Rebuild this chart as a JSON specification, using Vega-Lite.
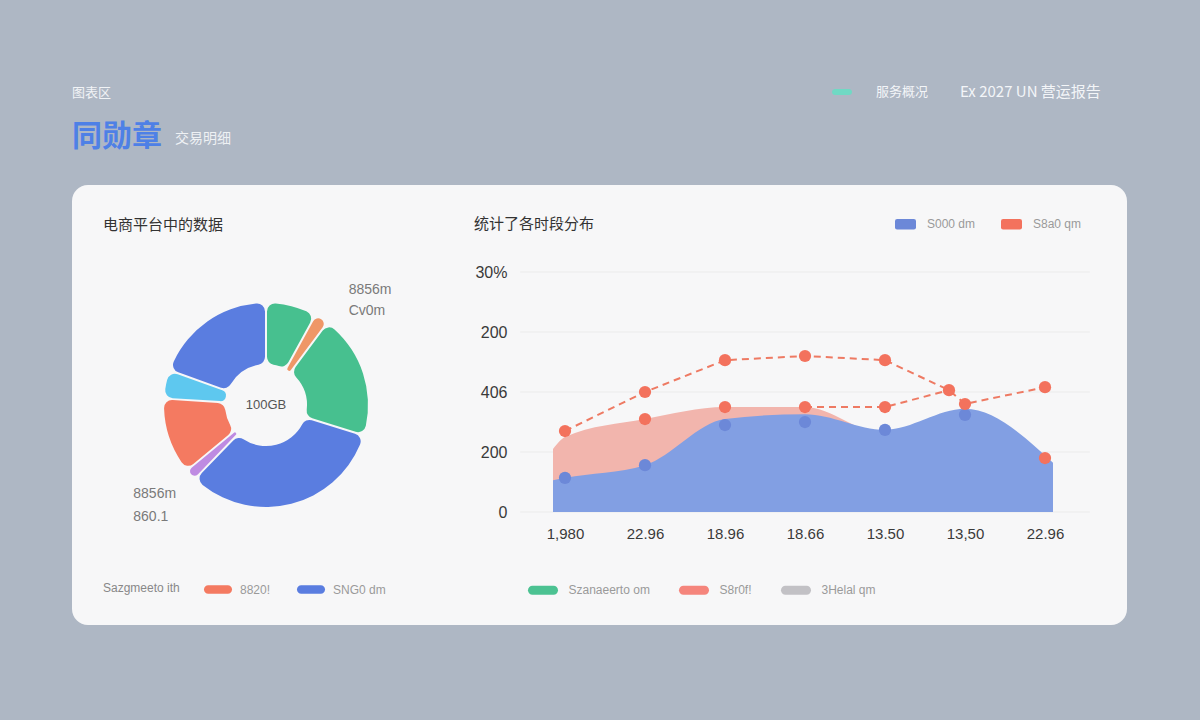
{
  "$schema": "https://vega.github.io/schema/vega-lite/v6.json",
  "background": "#aeb7c4",
  "padding": {"left": 72, "top": 85, "right": 73, "bottom": 95},
  "bounds": "flush",
  "spacing": 0,
  "resolve": {
    "scale": {"color": "independent", "fill": "independent", "shape": "independent"},
    "legend": {"color": "independent", "fill": "independent", "shape": "independent"}
  },
  "title": {
    "text": "图表区",
    "subtitle": "同勋章",
    "anchor": "start",
    "frame": "group",
    "font": "Noto Sans CJK SC",
    "fontSize": 13,
    "fontWeight": "normal",
    "color": "#f1f3f6",
    "subtitleFont": "Noto Sans CJK SC",
    "subtitleFontSize": 30,
    "subtitleFontWeight": "bold",
    "subtitleColor": "#4e80e6",
    "subtitlePadding": 22,
    "offset": -67
  },
  "config": {
    "font": "Noto Sans CJK SC",
    "view": {"stroke": null, "fill": null},
    "axis": {"domain": false, "ticks": false, "tickSize": 0, "grid": false, "zindex": 2, "labelFont": "Liberation Sans", "labelFontSize": 15, "labelColor": "#3a3a3a"},
    "legend": {"labelFont": "Liberation Sans", "labelFontSize": 12, "labelColor": "#9a9a9a", "symbolStrokeWidth": 0}
  },
  "datasets": {
    "card": [{"c": 1}],
    "donut": [
      {"k": 1, "name": "Szanaeerto om", "v": 8.0, "l1": "", "l2": ""},
      {"k": 2, "name": "Cv0m", "v": 2.2, "l1": "8856m\nCv0m", "l2": ""},
      {"k": 3, "name": "Szanaeerto om", "v": 19.6, "l1": "", "l2": ""},
      {"k": 4, "name": "SNG0 dm", "v": 32.4, "l1": "", "l2": ""},
      {"k": 5, "name": "860.1", "v": 1.8, "l1": "", "l2": "8856m\n860.1"},
      {"k": 6, "name": "8820!", "v": 12.0, "l1": "", "l2": ""},
      {"k": 7, "name": "Sb0", "v": 4.5, "l1": "", "l2": ""},
      {"k": 8, "name": "SNG0 dm", "v": 19.5, "l1": "", "l2": ""}
    ],
    "grid": [{"g": 0}, {"g": 100}, {"g": 200}, {"g": 300}, {"g": 400}],
    "pink": [
      {"x": -0.15, "v": 105}, {"x": 0, "v": 125}, {"x": 1, "v": 155}, {"x": 2, "v": 175},
      {"x": 3, "v": 175}, {"x": 4, "v": 130}, {"x": 5, "v": 165}, {"x": 6.1, "v": 78}
    ],
    "blue": [
      {"x": -0.15, "v": 53}, {"x": 0, "v": 57}, {"x": 1, "v": 78}, {"x": 2, "v": 155},
      {"x": 3, "v": 163}, {"x": 4, "v": 137}, {"x": 5, "v": 172}, {"x": 6.1, "v": 82}
    ],
    "lines": [
      {"s": "A", "x": 0, "v": 135}, {"s": "A", "x": 1, "v": 200}, {"s": "A", "x": 2, "v": 253},
      {"s": "A", "x": 3, "v": 260}, {"s": "A", "x": 4, "v": 253}, {"s": "A", "x": 4.8, "v": 203},
      {"s": "A", "x": 5, "v": 180}, {"s": "A", "x": 6, "v": 208},
      {"s": "B", "x": 3, "v": 175}, {"s": "B", "x": 4, "v": 175}, {"s": "B", "x": 4.8, "v": 203}
    ],
    "pts": [
      {"s": "S000 dm", "x": 0, "v": 57}, {"s": "S000 dm", "x": 1, "v": 78}, {"s": "S000 dm", "x": 2, "v": 145},
      {"s": "S000 dm", "x": 3, "v": 150}, {"s": "S000 dm", "x": 4, "v": 137}, {"s": "S000 dm", "x": 5, "v": 162},
      {"s": "S8a0 qm", "x": 0, "v": 135}, {"s": "S8a0 qm", "x": 1, "v": 200}, {"s": "S8a0 qm", "x": 2, "v": 253},
      {"s": "S8a0 qm", "x": 3, "v": 260}, {"s": "S8a0 qm", "x": 4, "v": 253}, {"s": "S8a0 qm", "x": 4.8, "v": 203},
      {"s": "S8a0 qm", "x": 5, "v": 180}, {"s": "S8a0 qm", "x": 6, "v": 208},
      {"s": "S8a0 qm", "x": 1, "v": 155}, {"s": "S8a0 qm", "x": 2, "v": 175}, {"s": "S8a0 qm", "x": 3, "v": 175},
      {"s": "S8a0 qm", "x": 4, "v": 175}, {"s": "S8a0 qm", "x": 6, "v": 90}
    ]
  },
  "hconcat": [
    {
      "width": 388,
      "height": 440,
      "title": {"text": "电商平台中的数据", "anchor": "start", "frame": "group", "dx": 31, "offset": -101, "fontSize": 15, "fontWeight": "normal", "color": "#333333"},
      "layer": [
        {
          "data": {"name": "card"},
          "mark": {"type": "rect", "color": "#f7f7f8", "cornerRadiusTopLeft": 16, "cornerRadiusBottomLeft": 16},
          "encoding": {}
        },
        {
          "data": {"name": "donut"},
          "mark": {"type": "arc", "innerRadius": 41, "outerRadius": 102, "cornerRadius": 8, "padAngle": 0.018},
          "encoding": {
            "theta": {"field": "v", "type": "quantitative", "stack": true},
            "order": {"field": "k", "type": "quantitative"},
            "color": {
              "field": "name", "type": "nominal",
              "scale": {"domain": ["Szanaeerto om", "Cv0m", "SNG0 dm", "860.1", "8820!", "Sb0"], "range": ["#47c08f", "#ef9767", "#5a7de0", "#be8be2", "#f47a61", "#5ec8ef"]},
              "legend": {
                "orient": "none", "legendX": 31, "legendY": 394.5, "direction": "horizontal",
                "values": ["8820!", "SNG0 dm"],
                "title": "Sazgmeeto ith", "titleOrient": "left", "titleFontSize": 12, "titleColor": "#888888", "titleFontWeight": "normal", "titleFont": "Liberation Sans", "titlePadding": 28,
                "symbolType": "M-1,-0.43L1,-0.43A0.43,0.43,0,0,1,1,0.43L-1,0.43A0.43,0.43,0,0,1,-1,-0.43Z",
                "symbolSize": 384, "labelOffset": 12, "columnPadding": 25, "symbolOpacity": 1
              }
            }
          }
        },
        {
          "data": {"name": "donut"},
          "mark": {"type": "text", "radius": 142, "thetaOffset": 0.05, "align": "left", "baseline": "middle", "lineBreak": "\n", "lineHeight": 21, "fontSize": 14, "color": "#7a7a7a", "font": "Liberation Sans"},
          "encoding": {
            "theta": {"field": "v", "type": "quantitative", "stack": true},
            "order": {"field": "k", "type": "quantitative"},
            "detail": {"field": "k", "type": "quantitative"},
            "text": {"field": "l1"}
          }
        },
        {
          "data": {"name": "donut"},
          "mark": {"type": "text", "radius": 160, "thetaOffset": 0.155, "align": "left", "baseline": "middle", "lineBreak": "\n", "lineHeight": 23, "fontSize": 14, "color": "#7a7a7a", "font": "Liberation Sans"},
          "encoding": {
            "theta": {"field": "v", "type": "quantitative", "stack": true},
            "order": {"field": "k", "type": "quantitative"},
            "detail": {"field": "k", "type": "quantitative"},
            "text": {"field": "l2"}
          }
        },
        {
          "data": {"values": [{"c": "100GB"}]},
          "mark": {"type": "text", "fontSize": 13, "color": "#555555", "font": "Liberation Sans"},
          "encoding": {"text": {"field": "c"}}
        },
        {
          "data": {"values": [{"t": "x"}]},
          "mark": {"type": "point", "size": 0, "filled": true, "opacity": 1},
          "encoding": {
            "shape": {
              "field": "t", "type": "nominal",
              "legend": {"orient": "none", "legendX": 103, "legendY": -53, "title": "交易明细", "titleFontSize": 14, "titleColor": "#eef1f4", "titleFontWeight": "normal", "symbolSize": 0, "symbolOpacity": 0, "labelOpacity": 0, "labelExpr": "''"}
            }
          }
        }
      ]
    },
    {
      "width": 667,
      "height": 440,
      "title": {"text": "统计了各时段分布", "anchor": "start", "frame": "group", "dx": 14, "offset": -147, "fontSize": 15, "fontWeight": "normal", "color": "#333333"},
      "layer": [
        {
          "data": {"name": "card"},
          "mark": {"type": "rect", "color": "#f7f7f8", "cornerRadiusTopRight": 16, "cornerRadiusBottomRight": 16},
          "encoding": {}
        },
        {
          "data": {"name": "grid"},
          "mark": {"type": "rule", "color": "#ebebeb", "strokeWidth": 1},
          "encoding": {
            "y": {"field": "g", "type": "quantitative", "scale": {"domain": [-188.33, 545], "nice": false, "zero": false}, "title": null,
                  "axis": {"values": [0, 100, 200, 300, 400], "labelExpr": "['0','200','406','200','30%'][datum.value/100]", "offset": -55, "labelPadding": 8, "labelFontSize": 16, "zindex": 2}},
            "x": {"datum": -0.56, "type": "quantitative", "scale": {"domain": [-1.3125, 7.025], "nice": false, "zero": false}, "title": null,
                  "axis": {"values": [0, 1, 2, 3, 4, 5, 6], "labelExpr": "['1,980','22.96','18.96','18.66','13.50','13,50','22.96'][datum.value]", "offset": -103, "labelPadding": 4, "zindex": 2}},
            "x2": {"datum": 6.56}
          }
        },
        {
          "data": {"name": "pink"},
          "mark": {"type": "area", "interpolate": "monotone", "color": "#f2b5ad", "opacity": 1},
          "encoding": {
            "x": {"field": "x", "type": "quantitative", "scale": {"domain": [-1.3125, 7.025], "nice": false, "zero": false}, "title": null},
            "y": {"field": "v", "type": "quantitative", "scale": {"domain": [-188.33, 545], "nice": false, "zero": false}, "title": null},
            "y2": {"datum": 0}
          }
        },
        {
          "data": {"name": "blue"},
          "mark": {"type": "area", "interpolate": "monotone", "color": "#829fe3", "opacity": 1},
          "encoding": {
            "x": {"field": "x", "type": "quantitative", "scale": {"domain": [-1.3125, 7.025], "nice": false, "zero": false}, "title": null},
            "y": {"field": "v", "type": "quantitative", "scale": {"domain": [-188.33, 545], "nice": false, "zero": false}, "title": null},
            "y2": {"datum": 0}
          }
        },
        {
          "data": {"name": "lines"},
          "mark": {"type": "line", "color": "#ee7a63", "strokeWidth": 2, "strokeDash": [7, 5]},
          "encoding": {
            "x": {"field": "x", "type": "quantitative", "scale": {"domain": [-1.3125, 7.025], "nice": false, "zero": false}, "title": null},
            "y": {"field": "v", "type": "quantitative", "scale": {"domain": [-188.33, 545], "nice": false, "zero": false}, "title": null},
            "detail": {"field": "s"}
          }
        },
        {
          "data": {"name": "pts"},
          "mark": {"type": "point", "filled": true, "size": 150, "opacity": 1},
          "encoding": {
            "x": {"field": "x", "type": "quantitative", "scale": {"domain": [-1.3125, 7.025], "nice": false, "zero": false}, "title": null},
            "y": {"field": "v", "type": "quantitative", "scale": {"domain": [-188.33, 545], "nice": false, "zero": false}, "title": null},
            "color": {
              "field": "s", "type": "nominal",
              "scale": {"domain": ["S000 dm", "S8a0 qm"], "range": ["#6c88d8", "#f3725d"]},
              "legend": {
                "orient": "none", "legendX": 435, "legendY": 28.5, "direction": "horizontal", "title": null,
                "symbolType": "M-0.8,-0.5L0.8,-0.5Q1,-0.5,1,-0.3L1,0.3Q1,0.5,0.8,0.5L-0.8,0.5Q-1,0.5,-1,0.3L-1,-0.3Q-1,-0.5,-0.8,-0.5Z",
                "symbolSize": 441, "labelOffset": 11, "columnPadding": 25, "symbolOpacity": 1
              }
            }
          }
        },
        {
          "data": {"values": [{"c": "Szanaeerto om"}, {"c": "S8r0f!"}, {"c": "3Helal qm"}]},
          "mark": {"type": "point", "filled": true, "size": 0, "opacity": 1},
          "encoding": {
            "fill": {
              "field": "c", "type": "nominal",
              "scale": {"domain": ["Szanaeerto om", "S8r0f!", "3Helal qm"], "range": ["#4cc292", "#f5857c", "#c2c1c5"]},
              "legend": {
                "orient": "none", "legendX": 72.5, "legendY": 394.5, "direction": "horizontal", "title": null,
                "symbolType": "M-1,-0.43L1,-0.43A0.43,0.43,0,0,1,1,0.43L-1,0.43A0.43,0.43,0,0,1,-1,-0.43Z",
                "symbolSize": 441, "labelOffset": 15, "columnPadding": 28, "symbolOpacity": 1
              }
            }
          }
        },
        {
          "data": {"values": [{"h": "服务概况"}]},
          "mark": {"type": "point", "filled": true, "size": 0, "opacity": 1, "color": "#70d9c4"},
          "encoding": {
            "shape": {
              "field": "h", "type": "nominal",
              "scale": {"range": ["M-1,-0.43L1,-0.43A0.43,0.43,0,0,1,1,0.43L-1,0.43A0.43,0.43,0,0,1,-1,-0.43Z"]},
              "legend": {
                "orient": "none", "legendX": 375, "legendY": -100, "direction": "horizontal",
                "title": "Ex 2027 UN 营运报告", "titleOrient": "right", "titlePadding": 32, "titleFontSize": 15, "titleColor": "#f3f5f8", "titleFontWeight": "normal",
                "symbolSize": 196, "symbolFillColor": "#70d9c4", "symbolOpacity": 1,
                "labelOffset": 27, "labelFontSize": 13, "labelColor": "#f3f5f8", "labelFont": "Noto Sans CJK SC"
              }
            }
          }
        }
      ]
    }
  ]
}
